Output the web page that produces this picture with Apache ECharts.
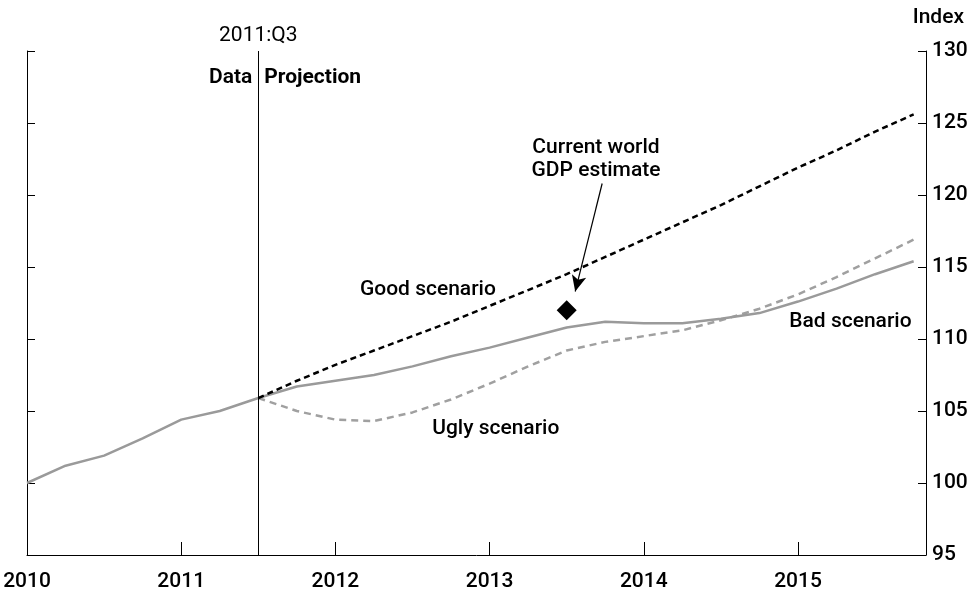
<!DOCTYPE html>
<html>
<head>
<meta charset="utf-8">
<script src="https://cdn.jsdelivr.net/npm/echarts@6/dist/echarts.min.js"></script>
<style>
html,body{margin:0;padding:0;background:#fff;}
#chart{width:976px;height:592px;}
</style>
</head>
<body>
<div id="chart"></div>
<script>
// Quarter positions (year fraction)
const histX = [2010.0, 2010.25, 2010.5, 2010.75, 2011.0, 2011.25, 2011.5];
const histY = [100.0, 101.2, 101.9, 103.1, 104.4, 105.0, 105.9];

const projX = [2011.5, 2011.75, 2012.0, 2012.25, 2012.5, 2012.75, 2013.0, 2013.25, 2013.5,
               2013.75, 2014.0, 2014.25, 2014.5, 2014.75, 2015.0, 2015.25, 2015.5, 2015.75];
const goodY = [105.9, 107.1, 108.2, 109.2, 110.2, 111.2, 112.3, 113.4, 114.5,
               115.7, 116.9, 118.1, 119.3, 120.6, 121.9, 123.1, 124.4, 125.6];
const badY  = [105.9, 106.7, 107.1, 107.5, 108.1, 108.8, 109.4, 110.1, 110.8,
               111.2, 111.1, 111.1, 111.4, 111.8, 112.6, 113.5, 114.5, 115.4];
const uglyY = [105.9, 105.0, 104.4, 104.3, 104.9, 105.8, 106.9, 108.1, 109.2,
               109.8, 110.2, 110.6, 111.3, 112.1, 113.1, 114.3, 115.6, 116.9];

const estimatePoint = [2013.5, 112.0];
const splitX = 2011.5;
const yearTicks = [2010, 2011, 2012, 2013, 2014, 2015];

const FAMILY = 'Roboto, "Noto Sans", sans-serif';
const SIZE = 21;
const zip = (xs, ys) => xs.map((x, i) => [x, ys[i]]);

const chart = echarts.init(document.getElementById('chart'));
const axisText = {color: '#000', fontFamily: FAMILY, fontSize: SIZE, fontWeight: 500};
const yAxisBase = {
  type: 'value', min: 95, max: 130, interval: 5,
  axisLine: {show: true, lineStyle: {color: '#000', width: 1}},
  axisTick: {show: true, inside: true, length: 8, lineStyle: {color: '#000'}},
  splitLine: {show: false}
};
chart.setOption({
  animation: false,
  grid: {left: 27, right: 50, top: 51, bottom: 37},
  xAxis: {
    type: 'value', min: 2010, max: 2015.83, interval: 1,
    axisLine: {show: true, onZero: false, lineStyle: {color: '#000', width: 1}},
    axisTick: {show: true, inside: true, length: 13, lineStyle: {color: '#000'}},
    axisLabel: Object.assign({
      showMaxLabel: false, margin: 16,
      formatter: v => (yearTicks.indexOf(Math.round(v)) >= 0 ? String(Math.round(v)) : '')
    }, axisText),
    splitLine: {show: false}
  },
  yAxis: [
    Object.assign({}, yAxisBase, {
      position: 'right',
      axisLabel: Object.assign({show: true, inside: false, margin: 6}, axisText)
    }),
    Object.assign({}, yAxisBase, {position: 'left', axisLabel: {show: false}})
  ],
  series: [
    {
      name: 'Data', type: 'line', data: zip(histX, histY), showSymbol: false,
      lineStyle: {color: '#9a9a9a', width: 2.5}, z: 3,
      markLine: {
        silent: true, symbol: ['none', 'none'], label: {show: false},
        lineStyle: {color: '#000', width: 1, type: 'solid'},
        data: [{xAxis: splitX}]
      }
    },
    {
      name: 'Ugly scenario', type: 'line', data: zip(projX, uglyY), showSymbol: false,
      lineStyle: {color: '#a0a0a0', width: 2.5, type: [7, 5]}, z: 2
    },
    {
      name: 'Bad scenario', type: 'line', data: zip(projX, badY), showSymbol: false,
      lineStyle: {color: '#9a9a9a', width: 2.5}, z: 3
    },
    {
      name: 'Good scenario', type: 'line', data: zip(projX, goodY), showSymbol: false,
      lineStyle: {color: '#000', width: 2.5, type: [6, 4]}, z: 4,
      markLine: {
        silent: true, symbol: ['none', 'arrow'], symbolSize: [11, 16], label: {show: false},
        lineStyle: {color: '#000', width: 1.2, type: 'solid'},
        data: [[{coord: [2013.73, 120.8]}, {coord: [2013.555, 113.3]}]]
      }
    },
    {
      name: 'Current world GDP estimate', type: 'scatter', data: [estimatePoint],
      symbol: 'diamond', symbolSize: 20, itemStyle: {color: '#000', opacity: 1}, z: 5
    }
  ]
});

function addLabels() {
  const p = c => chart.convertToPixel({gridIndex: 0}, c);
  const font = w => w + ' ' + SIZE + 'px ' + FAMILY;
  const txt = (c, text, align, weight) => {
    const pt = p(c);
    return {
      type: 'text', x: pt[0], y: pt[1], z: 10,
      style: {text: text, fill: '#000', font: font(weight),
              align: align || 'center', verticalAlign: 'middle', lineHeight: 23}
    };
  };
  const top = p([splitX, 130]);
  const right = p([2015.83, 130]);
  chart.setOption({
    graphic: [
      {type: 'text', x: top[0], y: top[1] - 15, z: 10,
       style: {text: '2011:Q3', fill: '#000', font: font('normal'), align: 'center', verticalAlign: 'middle'}},
      {type: 'text', x: top[0] - 6, y: top[1] + 27, z: 10,
       style: {text: 'Data', fill: '#000', font: font('600'), align: 'right', verticalAlign: 'middle'}},
      {type: 'text', x: top[0] + 6, y: top[1] + 27, z: 10,
       style: {text: 'Projection', fill: '#000', font: font('700'), align: 'left', verticalAlign: 'middle'}},
      {type: 'text', x: right[0] + 38, y: top[1] - 33, z: 10,
       style: {text: 'Index', fill: '#000', font: font('500'), align: 'right', verticalAlign: 'middle'}},
      txt([2013.69, 122.5], 'Current world\nGDP estimate', 'center', '500'),
      txt([2012.60, 113.4], 'Good scenario', 'center', '500'),
      txt([2013.04, 103.8], 'Ugly scenario', 'center', '500'),
      txt([2015.34, 111.2], 'Bad scenario', 'center', '500')
    ]
  });
}
addLabels();
</script>
</body>
</html>
